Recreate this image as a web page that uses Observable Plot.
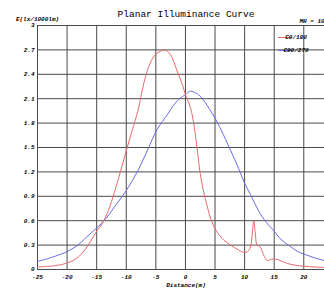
<!DOCTYPE html>
<html><head><meta charset="utf-8">
<script src="https://cdn.jsdelivr.net/npm/d3@7"></script>
<script src="https://cdn.jsdelivr.net/npm/@observablehq/plot@0.6"></script>
<style>
html,body{margin:0;padding:0;background:#fff;overflow:hidden;width:324px;height:292px}
svg{overflow:hidden}
</style>
</head><body><div id="chart"></div>
<script>
const xTicks = [-25, -20, -15, -10, -5, 0, 5, 10, 15, 20];
const yTicks = [0, 0.3, 0.6, 0.9, 1.2, 1.5, 1.8, 2.1, 2.4, 2.7, 3];

const c0Dist = [-25,-23,-21,-20,-19,-18,-17,-16,-15,-14,-13,-12,-11,-10,-9,-8,-7,-6,-5,-4,-3.5,-3,-2.5,-2,-1.4,-0.5,0,0.85,1.5,2,2.5,3,3.7,4.3,5,6,6.5,7.6,9,9.9,10.5,11,11.3,11.55,11.8,12.1,12.6,13.2,13.8,14.3,14.9,15.7,16.6,18,20,22,25];
const c0Val  = [0.03,0.04,0.06,0.08,0.11,0.16,0.24,0.35,0.47,0.57,0.73,0.95,1.2,1.46,1.71,1.96,2.3,2.53,2.65,2.69,2.70,2.68,2.64,2.56,2.44,2.27,2.15,1.99,1.75,1.47,1.18,0.98,0.77,0.62,0.5,0.4,0.36,0.3,0.24,0.21,0.22,0.28,0.45,0.6,0.45,0.3,0.28,0.18,0.11,0.12,0.13,0.12,0.09,0.06,0.04,0.03,0.02];

const c90Dist = [-25,-23,-21,-20,-18,-16.7,-15,-13.5,-12,-10,-8,-6.4,-4.8,-3,-2,-1,0,0.7,1.5,2.5,4,5,6,7.6,9,10,11,12.6,14,14.9,16,17.4,19,20,22,23.4,25];
const c90Val  = [0.10,0.14,0.19,0.22,0.31,0.40,0.51,0.62,0.77,0.97,1.22,1.47,1.72,1.91,2.02,2.10,2.15,2.19,2.18,2.13,1.98,1.86,1.72,1.47,1.24,1.06,0.92,0.69,0.55,0.48,0.38,0.30,0.22,0.19,0.14,0.11,0.08];

const seriesNames = ["C0/180", "C90/270"];
const seriesColors = ["#e86a6a", "#6a6ae6"];
const titleText = "Planar Illuminance Curve";
const yLabel = "E(lx/1000lm)";
const xLabel = "Distance(m)";
const mhText = "MH = 10";

const c0 = c0Dist.map((d, i) => ({d, v: c0Val[i]}));
const c90 = c90Dist.map((d, i) => ({d, v: c90Val[i]}));

const plot = Plot.plot({
  width: 324, height: 292,
  marginLeft: 37, marginRight: 0, marginTop: 25, marginBottom: 23,
  style: {fontFamily: "'Liberation Mono', monospace", fontSize: "6px", fontWeight: "bold", fontStyle: "italic", background: "#fff", color: "#000"},
  x: {domain: [-25, 23.5], ticks: xTicks, tickSize: 0, tickPadding: 5, label: null, tickFormat: d => String(d)},
  y: {domain: [0, 3], ticks: yTicks, tickSize: 0, tickPadding: 3, label: null, tickFormat: d => String(d)},
  marks: [
    Plot.ruleX(xTicks, {stroke: "#4a4a4a", strokeWidth: 1}),
    Plot.ruleY(yTicks, {stroke: "#4a4a4a", strokeWidth: 1}),
    Plot.line(c90, {x: "d", y: "v", stroke: seriesColors[1], strokeWidth: 1, curve: "catmull-rom", clip: true}),
    Plot.line(c0, {x: "d", y: "v", stroke: seriesColors[0], strokeWidth: 1, curve: "catmull-rom", clip: true}),
    Plot.text([titleText], {frameAnchor: "top", dx: 5, dy: -15, fontSize: 9.5, fontWeight: "normal", fontStyle: "normal"}),
    Plot.text([yLabel], {frameAnchor: "top-left", textAnchor: "middle", dy: -9}),
    Plot.text([mhText], {frameAnchor: "top-right", textAnchor: "start", dx: -25, dy: -7}),
    Plot.text([xLabel], {frameAnchor: "bottom", dx: 5, dy: 17})
  ]
});
document.getElementById("chart").appendChild(plot);

// legend
const svg = d3.select(plot);
const lg = svg.append("g");
seriesNames.forEach((name, i) => {
  const y = 37.5 + i * 13;
  lg.append("line").attr("x1", 278).attr("x2", 292).attr("y1", y).attr("y2", y)
    .attr("stroke", seriesColors[i]).attr("stroke-width", 1);
  lg.append("text").attr("x", 296).attr("y", y).attr("dy", "0.32em").text(name);
});
</script>
</body></html>
